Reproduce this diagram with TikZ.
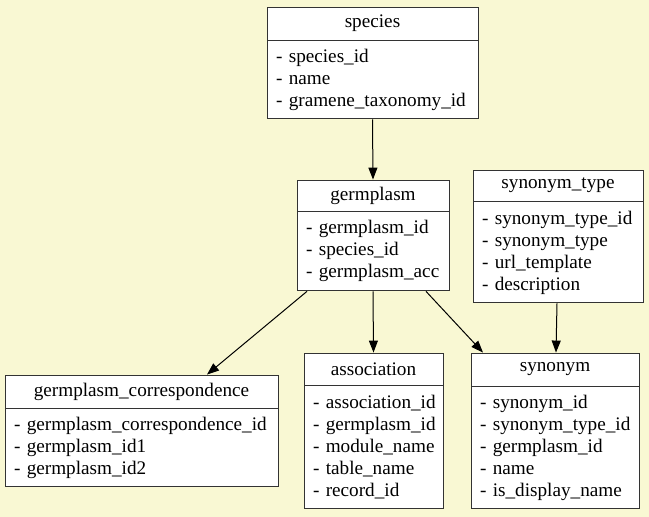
\documentclass[tikz,border=0pt]{standalone}
\usepackage{fontspec}
\setmainfont{Liberation Serif}
\usetikzlibrary{arrows.meta,positioning,calc}
\definecolor{bgyellow}{HTML}{F9F8D3}
\newcommand\headfont{\fontsize{19.2pt}{22pt}\selectfont}
\newcommand\bodyfont{\fontsize{19.2pt}{22pt}\selectfont\hyphenpenalty=10000\exhyphenpenalty=10000}
\tikzset{
  tblhead/.style={draw=black!80, fill=white, line width=0.9pt, minimum height=33pt,
    inner sep=0pt, font=\headfont},
  tblbody/.style={draw=black!80, fill=white, line width=0.9pt, align=left,
    inner xsep=9pt, inner ysep=0pt, anchor=north west, font=\bodyfont},
  link/.style={-{Triangle[length=12pt,width=9pt]}, line width=1pt, black}
}
\begin{document}
\begin{tikzpicture}[x=1pt,y=-1pt]
    % background
    \fill[bgyellow] (0,0) rectangle (649,517);
    \useasboundingbox (0,0) rectangle (649,517);

    % tables
    \node[tblhead, minimum width=211pt] (species-h) at (372.5,23.5) {species};
    \node[tblbody, text width=193pt, minimum height=78pt] (species) at (species-h.south west)
        {-~species\_id\\-~name\\-~gramene\_taxonomy\_id};

    \node[tblhead, minimum width=152pt, minimum height=31pt] (germplasm-h) at (373,195.5) {germplasm};
    \node[tblbody, text width=134pt, minimum height=79pt] (germplasm) at (germplasm-h.south west)
        {-~germplasm\_id\\-~species\_id\\-~germplasm\_acc};

    \node[tblhead, minimum width=170pt, minimum height=31pt] (syntype-h) at (558,185.5) {synonym\_type};
    \node[tblbody, text width=152pt, minimum height=101pt] (syntype) at (syntype-h.south west)
        {-~synonym\_type\_id\\-~synonym\_type\\-~url\_template\\-~description};

    \node[tblhead, minimum width=273pt] (gcorr-h) at (141.5,391.5) {germplasm\_correspondence};
    \node[tblbody, text width=255pt, minimum height=78pt] (gcorr) at (gcorr-h.south west)
        {-~germplasm\_correspondence\_id\\-~germplasm\_id1\\-~germplasm\_id2};

    \node[tblhead, minimum width=139pt, minimum height=32pt] (assoc-h) at (373.5,369) {association};
    \node[tblbody, text width=121pt, minimum height=123pt] (assoc) at (assoc-h.south west)
        {-~association\_id\\-~germplasm\_id\\-~module\_name\\-~table\_name\\-~record\_id};

    \node[tblhead, minimum width=168pt] (synonym-h) at (555,369.5) {synonym};
    \node[tblbody, text width=150pt, minimum height=122pt] (synonym) at (synonym-h.south west)
        {-~synonym\_id\\-~synonym\_type\_id\\-~germplasm\_id\\-~name\\-~is\_display\_name};

    % links
    \draw[link] (species.south) -- (germplasm-h.north);
    \draw[link] ([xshift=-66pt]germplasm.south) -- ([xshift=65.5pt]gcorr-h.north);
    \draw[link] (germplasm.south) -- (assoc-h.north);
    \draw[link] ([xshift=53pt]germplasm.south) -- ([xshift=-72pt]synonym-h.north);
    \draw[link] ([xshift=-1pt]syntype.south) -- ([xshift=1pt]synonym-h.north);
\end{tikzpicture}
\end{document}
